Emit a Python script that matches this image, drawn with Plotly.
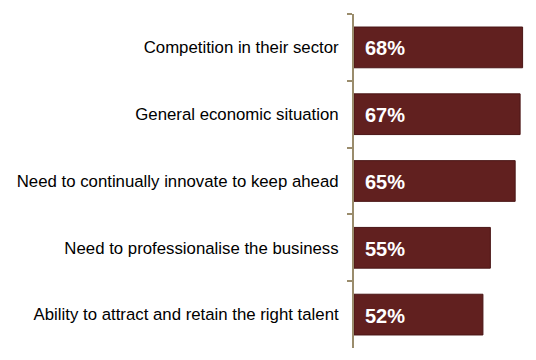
import plotly.graph_objects as go

categories = [
    "Competition in their sector",
    "General economic situation",
    "Need to continually innovate to keep ahead",
    "Need to professionalise the business",
    "Ability to attract and retain the right talent",
]
values = [68, 67, 65, 55, 52]
value_labels = [f"{v}%" for v in values]

bar_color = "#61201F"
axis_color = "#9A8C6C"

fig = go.Figure(
    go.Bar(
        x=values,
        y=categories,
        orientation="h",
        marker=dict(color=bar_color, line=dict(color="#4A1515", width=1)),
        hoverinfo="skip",
    )
)

for c, lbl in zip(categories, value_labels):
    fig.add_annotation(
        x=0, y=c, text=f"<b>{lbl}</b>", showarrow=False,
        xanchor="left", xshift=9, yshift=-1,
        font=dict(family="Arial, Liberation Sans", size=20, color="white"),
    )

# page body has an 8px margin; compensate so the plot sits where the reference has it
fig.update_layout(
    width=528, height=352,
    margin=dict(l=346, r=1, t=6, b=12),
    paper_bgcolor="white", plot_bgcolor="white",
    bargap=0.39,
    showlegend=False,
    font=dict(family="Arial, Liberation Sans", size=16.8, color="black"),
)
fig.update_xaxes(range=[0, 73], visible=False, showgrid=False)
fig.update_yaxes(
    autorange="reversed",
    showline=True, linecolor=axis_color, linewidth=2,
    ticks="outside", tickson="boundaries", ticklen=5, tickcolor=axis_color, tickwidth=2,
    ticklabelstandoff=10,
    showgrid=False,
    tickfont=dict(family="Arial, Liberation Sans", size=16.8, color="black"),
)

fig.write_html("out.html")
